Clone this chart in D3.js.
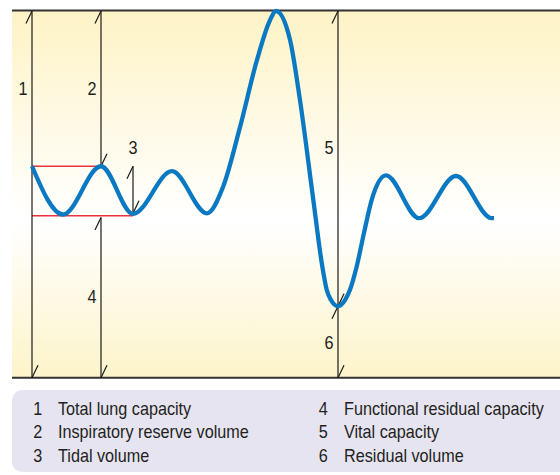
<!DOCTYPE html>
<html>
<head>
<meta charset="utf-8">
<script src="https://cdn.jsdelivr.net/npm/d3@7"></script>
<style>
  html, body { margin: 0; padding: 0; background: #ffffff; }
  svg { display: block; }
  text { font-family: "Liberation Sans", Arial, sans-serif; fill: #231f20; }
</style>
</head>
<body>
<svg id="chart" width="560" height="475"></svg>
<script>
// ---------------- data ----------------
// spirogram trace: time (s) and lung volume (L)
const times   = [0, 3.1, 6.9, 10.1, 14.0, 17.5, 19.1, 20.8, 22.5, 23.8, 24.4, 25.8, 26.8, 28.13, 29.03, 29.47, 29.9, 30.57, 31.3, 31.8, 32.47, 33.2, 33.97, 35.4, 38.7, 42.4, 46.0, 46.2];
const volumes = [3.46, 2.67, 3.46, 2.68, 3.38, 2.69, 3.12, 4.10, 5.20, 5.85, 6.00, 5.53, 4.54, 2.91, 1.82, 1.44, 1.27, 1.17, 1.27, 1.44, 1.82, 2.37, 2.91, 3.31, 2.61, 3.30, 2.61, 2.61];

// lung volume / capacity markers
const markerIds    = ["1", "2", "3", "4", "5", "6"];
const markerTimes  = [0, 6.9, 10.1, 6.9, 30.6, 30.6];
const markerFrom   = [0, 3.46, 2.69, 0, 1.17, 0];
const markerTo     = [6, 6, 3.46, 2.62, 6, 1.17];
const markerLabelV = [4.73, 4.73, 3.76, 1.33, 3.76, 0.58];

// tidal reference levels (red)
const refLevels = [3.46, 2.65];
const refEndT   = [6.9, 10.1];

// legend
const legendIds   = ["1", "2", "3", "4", "5", "6"];
const legendNames = ["Total lung capacity", "Inspiratory reserve volume", "Tidal volume",
                     "Functional residual capacity", "Vital capacity", "Residual volume"];

// ---------------- drawing ----------------
const svg = d3.select("#chart");
const W = 560;
const plotTop = 11, plotBottom = 377.7, plotLeft = 12;

const x = d3.scaleLinear().domain([0, 50]).range([32, 532]);
const y = d3.scaleLinear().domain([0, 6]).range([plotBottom, plotTop]);

const defs = svg.append("defs");
const grad = defs.append("linearGradient").attr("id", "bg")
  .attr("x1", 0).attr("y1", 0).attr("x2", 0).attr("y2", 1);
grad.append("stop").attr("offset", "0%").attr("stop-color", "#fef3c6");
grad.append("stop").attr("offset", "57%").attr("stop-color", "#ffffff");
grad.append("stop").attr("offset", "100%").attr("stop-color", "#fdf4ca");

svg.append("rect")
  .attr("x", plotLeft).attr("y", plotTop)
  .attr("width", W - plotLeft).attr("height", plotBottom - plotTop)
  .attr("fill", "url(#bg)");

// frame lines
svg.append("line").attr("x1", plotLeft).attr("x2", W)
  .attr("y1", plotTop - 0.5).attr("y2", plotTop - 0.5)
  .attr("stroke", "#333").attr("stroke-width", 2);
svg.append("line").attr("x1", plotLeft).attr("x2", W)
  .attr("y1", plotBottom).attr("y2", plotBottom)
  .attr("stroke", "#333").attr("stroke-width", 2);

// red tidal reference lines
svg.append("g").selectAll("line").data(refLevels).join("line")
  .attr("x1", x(0)).attr("x2", (d, i) => x(refEndT[i]))
  .attr("y1", d => y(d)).attr("y2", d => y(d))
  .attr("stroke", "#e8343c").attr("stroke-width", 1.3);

// markers
const markers = markerIds.map((id, i) => ({
  id, t: markerTimes[i], v0: markerFrom[i], v1: markerTo[i], lv: markerLabelV[i]
}));
const mg = svg.append("g").attr("stroke", "#1a1a1a").attr("stroke-width", 1.2);
markers.forEach(m => {
  const mx = x(m.t), yTop = y(m.v1), yBot = y(m.v0);
  mg.append("line").attr("x1", mx).attr("x2", mx).attr("y1", yTop).attr("y2", yBot);
  mg.append("line").attr("x1", mx - 6).attr("y1", yTop + 12.5).attr("x2", mx).attr("y2", yTop);
  mg.append("line").attr("x1", mx).attr("y1", yBot).attr("x2", mx + 6).attr("y2", yBot - 12.5);
});

// curve
const pts = times.map((t, i) => [t, volumes[i]]);
svg.append("path")
  .datum(pts)
  .attr("fill", "none")
  .attr("stroke", "#0a79c2")
  .attr("stroke-width", 4.3)
  .attr("d", d3.line().x(d => x(d[0])).y(d => y(d[1])).curve(d3.curveMonotoneX));

// marker labels
markers.forEach(m => {
  const mx = x(m.t);
  const above = m.id === "3";
  const lx = above ? mx : mx - 4.5;
  const ly = y(m.lv) + 6.5;
  svg.append("text")
    .attr("transform", `translate(${lx},${ly}) scale(0.9,1)`)
    .attr("text-anchor", above ? "middle" : "end")
    .attr("font-size", 18)
    .text(m.id);
});

// legend
svg.append("rect")
  .attr("x", plotLeft).attr("y", 390)
  .attr("width", W).attr("height", 82).attr("rx", 10)
  .attr("fill", "#e6e4f1");

const legendItems = legendIds.map((id, i) => ({ id, name: legendNames[i], col: Math.floor(i / 3), row: i % 3 }));
const colNumX = [37.7, 323.3], colTextX = [58, 344];
const lg = svg.append("g");
legendItems.forEach(d => {
  const by = 414.5 + d.row * 23.6;
  lg.append("text")
    .attr("transform", `translate(${colNumX[d.col]},${by}) scale(0.9,1)`)
    .attr("text-anchor", "middle").attr("font-size", 18).text(d.id);
  lg.append("text")
    .attr("transform", `translate(${colTextX[d.col]},${by}) scale(0.9,1)`)
    .attr("font-size", 18).text(d.name);
});
</script>
</body>
</html>
